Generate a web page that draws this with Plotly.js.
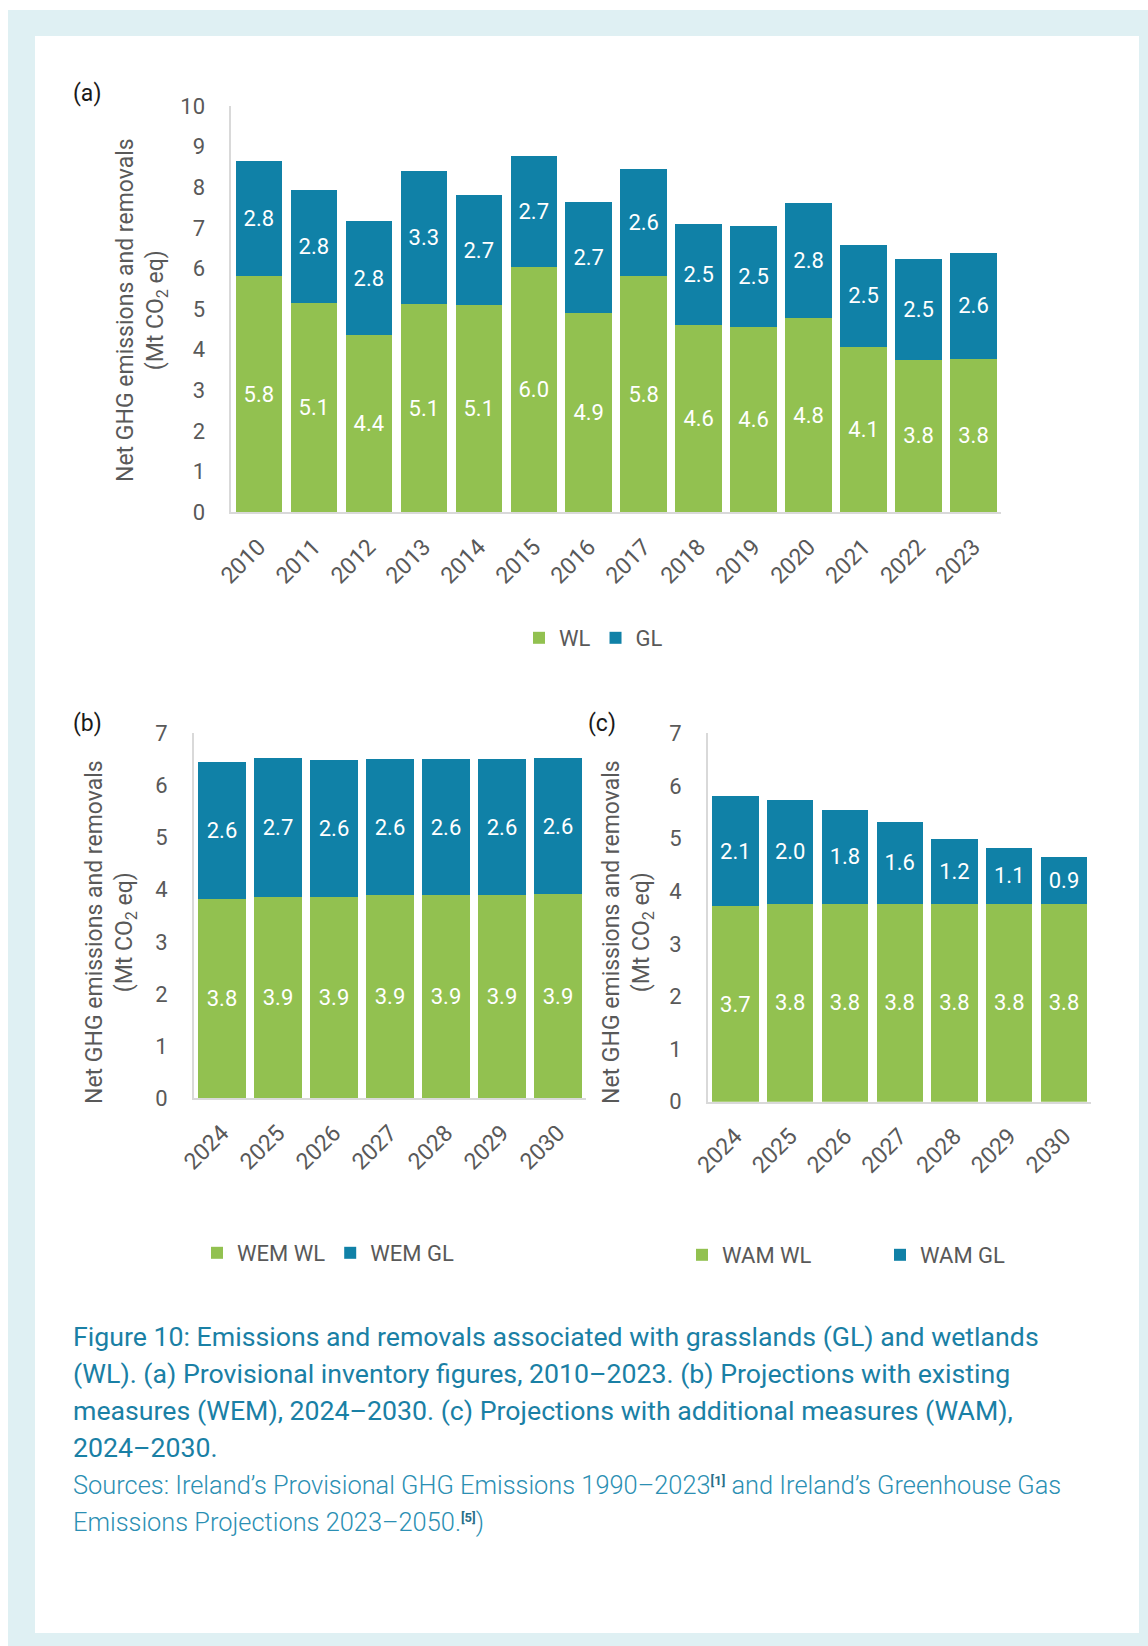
<!DOCTYPE html>
<html>
<head>
<meta charset="utf-8">
<script src="https://cdn.plot.ly/plotly-3.0.1.min.js"></script>
<style>
  html, body { margin: 0; padding: 0; background: #ffffff; }
  #frame { position: absolute; left: 8px; top: 10px; width: 1140px; height: 1636px; background: #dff0f3; }
  #inner { position: absolute; left: 35px; top: 36px; width: 1104px; height: 1597px; background: #ffffff; }
  #chart { position: absolute; left: 0; top: 0; width: 1148px; height: 1646px; }
  #caption { position: absolute; left: 73px; top: 1319px; width: 1060px; font-family: Roboto, sans-serif; }
  #caption .main { font-size: 26.7px; line-height: 37px; color: #1a80a5; font-weight: 400; white-space: nowrap; }
  #caption .src { font-size: 25.4px; line-height: 37px; color: #2b8fb3; font-weight: 300; white-space: nowrap; }
  #caption sup { font-size: 13px; font-weight: 700; color: #2a6f88; vertical-align: 9px; line-height: 0; }
</style>
</head>
<body>
<div id="frame"></div>
<div id="inner"></div>
<div id="chart"></div>
<div id="caption">
  <div class="main">Figure 10: Emissions and removals associated with grasslands (GL) and wetlands<br>(WL). (a) Provisional inventory figures, 2010–2023. (b) Projections with existing<br>measures (WEM), 2024–2030. (c) Projections with additional measures (WAM),<br>2024–2030.</div>
  <div class="src">Sources: Ireland’s Provisional GHG Emissions 1990–2023<sup>[1]</sup> and Ireland’s Greenhouse Gas<br>Emissions Projections 2023–2050.<sup>[5]</sup>)</div>
</div>
<script>
// ---- data ----
const yearsA = ['2010','2011','2012','2013','2014','2015','2016','2017','2018','2019','2020','2021','2022','2023'];
const wlA = [5.82, 5.14, 4.36, 5.12, 5.09, 6.04, 4.91, 5.82, 4.62, 4.56, 4.78, 4.08, 3.76, 3.77];
const glA = [2.83, 2.79, 2.80, 3.27, 2.71, 2.73, 2.73, 2.64, 2.47, 2.48, 2.83, 2.50, 2.48, 2.62];

const yearsP = ['2024','2025','2026','2027','2028','2029','2030'];
const wemWL = [3.82, 3.87, 3.87, 3.89, 3.89, 3.89, 3.91];
const wemGL = [2.63, 2.66, 2.62, 2.62, 2.62, 2.62, 2.61];
const wamWL = [3.71, 3.76, 3.76, 3.76, 3.76, 3.76, 3.76];
const wamGL = [2.10, 1.98, 1.78, 1.56, 1.24, 1.06, 0.89];

const seriesNames = { a: ['WL', 'GL'], b: ['WEM WL', 'WEM GL'], c: ['WAM WL', 'WAM GL'] };
const panelLabels = ['(a)', '(b)', '(c)'];
const yTitle = 'Net GHG emissions and removals<br>(Mt CO<sub>2</sub> eq)';

// ---- styling ----
const W = 1148, H = 1646;
const GREEN = '#92c150', BLUE = '#1081a7', GREY = '#595959', AXIS = '#d9d9d9';
const px = v => v / W;
const py = v => 1 - v / H;

function barTrace(x, y, name, color, xa, ya, legend) {
  return {
    type: 'bar', x: x, y: y, name: name, xaxis: xa, yaxis: ya, legend: legend,
    marker: { color: color, line: { width: 0 } },
    texttemplate: '%{y:.1f}', textposition: 'inside', insidetextanchor: 'middle',
    textangle: 0, constraintext: 'none',
    textfont: { family: 'Roboto, sans-serif', size: 22, color: '#ffffff' },
    hoverinfo: 'skip'
  };
}

const data = [
  barTrace(yearsA, wlA, seriesNames.a[0], GREEN, 'x', 'y', 'legend'),
  barTrace(yearsA, glA, seriesNames.a[1], BLUE, 'x', 'y', 'legend'),
  barTrace(yearsP, wemWL, seriesNames.b[0], GREEN, 'x2', 'y2', 'legend2'),
  barTrace(yearsP, wemGL, seriesNames.b[1], BLUE, 'x2', 'y2', 'legend2'),
  barTrace(yearsP, wamWL, seriesNames.c[0], GREEN, 'x3', 'y3', 'legend3'),
  barTrace(yearsP, wamGL, seriesNames.c[1], BLUE, 'x3', 'y3', 'legend3')
];

function xAxis(dom, anchor) {
  return {
    domain: dom, anchor: anchor, type: 'category',
    showline: true, linecolor: AXIS, linewidth: 2,
    showgrid: false, zeroline: false, ticks: '',
    tickangle: -45, ticklabelstandoff: 10,
    tickfont: { family: 'Roboto, sans-serif', size: 23, color: GREY },
    fixedrange: true
  };
}
function yAxis(dom, anchor, maxV) {
  return {
    domain: dom, anchor: anchor, range: [0, maxV], dtick: 1, tick0: 0,
    showline: true, linecolor: AXIS, linewidth: 2,
    showgrid: false, zeroline: false, ticks: '',
    ticklabelstandoff: 20,
    tickfont: { family: 'Roboto, sans-serif', size: 22, color: GREY },
    fixedrange: true
  };
}

function legendAt(xl, yc, extra) {
  return Object.assign({
    orientation: 'h', x: px(xl), y: py(yc), xanchor: 'left', yanchor: 'middle',
    bgcolor: 'rgba(0,0,0,0)', traceorder: 'normal',
    font: { family: 'Roboto, sans-serif', size: 22, color: GREY },
    itemclick: false, itemdoubleclick: false
  }, extra || {});
}

function titleAnn(xc, yc) {
  return {
    xref: 'paper', yref: 'paper', x: px(xc), y: py(yc), xanchor: 'center', yanchor: 'middle',
    text: yTitle, textangle: -90, showarrow: false,
    font: { family: 'Roboto, sans-serif', size: 23, color: GREY }
  };
}
function panelAnn(label, xl, yc) {
  return {
    xref: 'paper', yref: 'paper', x: px(xl), y: py(yc), xanchor: 'left', yanchor: 'middle',
    text: label, showarrow: false,
    font: { family: 'Roboto, sans-serif', size: 23, color: '#1a1a1a' }
  };
}

const layout = {
  width: W, height: H,
  margin: { l: 0, r: 0, t: 0, b: 0 },
  paper_bgcolor: 'rgba(0,0,0,0)', plot_bgcolor: 'rgba(0,0,0,0)',
  font: { family: 'Roboto, sans-serif', color: GREY },
  barmode: 'stack', bargap: 0.155,
  xaxis: xAxis([px(231.4), px(1001)], 'y'),
  yaxis: yAxis([py(512.3), py(106)], 'x', 10),
  xaxis2: xAxis([px(194), px(586)], 'y2'),
  yaxis2: yAxis([py(1098.3), py(733.3)], 'x2', 7),
  xaxis3: xAxis([px(708), px(1091.4)], 'y3'),
  yaxis3: yAxis([py(1101.7), py(733.3)], 'x3', 7),
  legend: legendAt(519, 638),
  legend2: legendAt(197, 1253),
  legend3: legendAt(682, 1255, { entrywidth: 153, entrywidthmode: 'pixels' }),
  annotations: [
    panelAnn(panelLabels[0], 71, 94),
    panelAnn(panelLabels[1], 71, 723),
    panelAnn(panelLabels[2], 586, 723),
    titleAnn(142, 310),
    titleAnn(111, 932),
    titleAnn(628, 932)
  ],
  hovermode: false
};

Plotly.newPlot('chart', data, layout, { staticPlot: true, displayModeBar: false });
</script>
</body>
</html>
